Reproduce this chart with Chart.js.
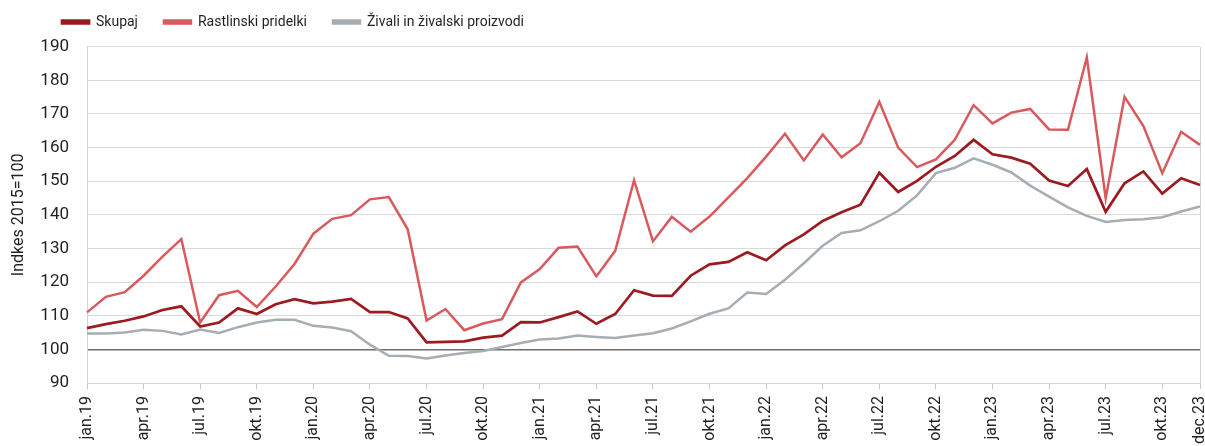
<!DOCTYPE html>
<html>
<head>
<meta charset="utf-8">
<script src="https://cdn.jsdelivr.net/npm/chart.js@4"></script>
<style>
  html, body { margin: 0; padding: 0; background: #fff; overflow: hidden; }
  #wrap { width: 1205px; height: 446px; }
</style>
</head>
<body>
<div id="wrap"><canvas id="chart" width="1205" height="446"></canvas></div>
<script>
// podatki: indeksi cen kmetijskih pridelkov, 2015=100
const months = ['jan', 'feb', 'mar', 'apr', 'maj', 'jun', 'jul', 'avg', 'sep', 'okt', 'nov', 'dec'];
const years = ['19', '20', '21', '22', '23'];

const skupaj = [
  106.3, 107.5, 108.5, 109.8, 111.7, 112.8, 106.8, 108.0, 112.2, 110.5, 113.4, 114.9,
  113.7, 114.2, 115.0, 111.1, 111.1, 109.2, 102.1, 102.2, 102.4, 103.5, 104.1, 108.1,
  108.0, 109.6, 111.3, 107.6, 110.5, 117.6, 116.0, 115.9, 121.9, 125.3, 126.0, 128.9,
  126.5, 130.9, 134.2, 138.2, 140.8, 143.0, 152.5, 146.8, 150.1, 154.3, 157.5, 162.3,
  158.0, 157.0, 155.2, 150.2, 148.6, 153.6, 140.9, 149.4, 152.9, 146.3, 150.9, 148.9
];
const rastlinski = [
  111.0, 115.6, 117.0, 121.9, 127.6, 132.8, 108.0, 116.1, 117.4, 112.6, 118.7, 125.4,
  134.4, 138.8, 139.9, 144.6, 145.3, 135.7, 108.6, 112.0, 105.7, 107.7, 109.0, 119.9,
  123.9, 130.2, 130.6, 121.7, 129.3, 150.3, 132.1, 139.4, 135.0, 139.5, 145.2, 150.9,
  157.3, 164.1, 156.2, 163.9, 157.1, 161.3, 173.6, 160.0, 154.2, 156.5, 162.3, 172.6,
  167.2, 170.4, 171.5, 165.4, 165.3, 186.8, 144.9, 175.1, 166.4, 152.4, 164.7, 160.8
];
const zivali = [
  104.7, 104.7, 105.0, 105.8, 105.5, 104.4, 105.9, 104.9, 106.6, 108.0, 108.8, 108.8,
  107.0, 106.5, 105.4, 101.4, 98.1, 98.0, 97.3, 98.2, 98.9, 99.5, 100.7, 101.9,
  102.9, 103.2, 104.1, 103.7, 103.4, 104.1, 104.8, 106.2, 108.3, 110.6, 112.2, 116.9,
  116.5, 120.7, 125.6, 130.8, 134.6, 135.4, 138.1, 141.2, 145.8, 152.4, 154.0, 156.8,
  154.9, 152.6, 148.7, 145.4, 142.2, 139.7, 137.9, 138.5, 138.7, 139.3, 141.0, 142.5
];

const labels = [];
years.forEach(y => months.forEach(m => labels.push(m + '.' + y)));
const lastIdx = labels.length - 1;
const showTick = i => i % 3 === 0 || i === lastIdx;

const textColor = '#231f20';

// legenda: premik desno in navzgor
const legendShift = {
  id: 'legendShift',
  afterLayout(chart) {
    chart.legend.left += 36;
    chart.legend.top -= 7.7;
  }
};

const ctx = document.getElementById('chart').getContext('2d');
const chart = new Chart(ctx, {
  type: 'line',
  data: {
    labels: labels,
    datasets: [
      { label: 'Skupaj', data: skupaj, borderColor: '#9b1b21', backgroundColor: '#9b1b21', borderWidth: 2.7 },
      { label: 'Rastlinski pridelki', data: rastlinski, borderColor: '#d95a5d', backgroundColor: '#d95a5d', borderWidth: 2.5 },
      { label: 'Živali in živalski proizvodi', data: zivali, borderColor: '#a6adb3', backgroundColor: '#a6adb3', borderWidth: 2.5 }
    ]
  },
  options: {
    responsive: false,
    animation: false,
    elements: { point: { radius: 0 }, line: { tension: 0 } },
    layout: { padding: { left: 0, right: 5, top: -3.3, bottom: 0 } },
    plugins: {
      tooltip: { enabled: false },
      legend: {
        position: 'top',
        align: 'start',
        labels: {
          boxWidth: 27,
          boxHeight: 3,
          padding: 26,
          color: textColor,
          font: { family: 'Roboto', size: 14 }
        }
      }
    },
    scales: {
      x: {
        grid: {
          drawOnChartArea: true,
          color: c => c.index === lastIdx ? '#d4d4d4' : 'transparent',
          tickColor: c => showTick(c.index) ? '#c8c8c8' : 'transparent',
          tickLength: 6
        },
        border: { color: '#d4d4d4', width: 1 },
        ticks: {
          autoSkip: false,
          maxRotation: 90,
          minRotation: 90,
          padding: 7,
          color: textColor,
          font: { family: 'Roboto', size: 16 },
          callback: (v, i) => showTick(i) ? labels[i] : ''
        },
        afterFit: scale => {
          scale.height = 63;
          scale.paddingLeft = 0;
          scale.paddingRight = 0;
        }
      },
      y: {
        min: 90,
        max: 190,
        ticks: { stepSize: 10, padding: 18, color: textColor, font: { family: 'Roboto', size: 17 } },
        grid: {
          drawTicks: false,
          color: c => c.tick.value === 100 ? '#6d6e71' : '#d9d9d9',
          lineWidth: c => c.tick.value === 100 ? 1.6 : 1
        },
        border: { color: '#d4d4d4', width: 1 },
        title: {
          display: true,
          text: 'Indkes 2015=100',
          color: textColor,
          font: { family: 'Roboto', size: 16 },
          padding: { top: 9, bottom: 0 }
        },
        afterFit: scale => { scale.width = 87; }
      }
    }
  },
  plugins: [legendShift]
});
</script>
</body>
</html>
